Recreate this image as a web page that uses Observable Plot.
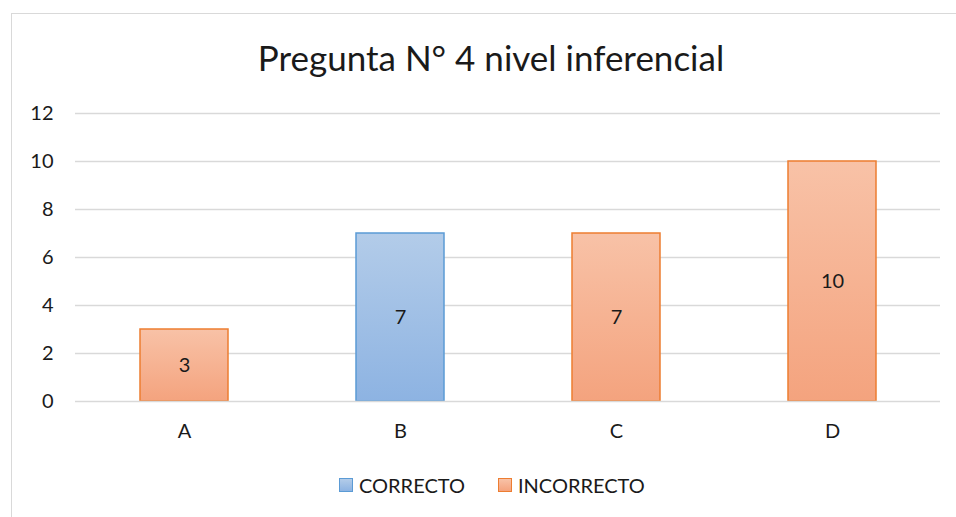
<!DOCTYPE html>
<html>
<head>
<meta charset="utf-8">
<script src="https://cdn.jsdelivr.net/npm/d3@7"></script>
<script src="https://cdn.jsdelivr.net/npm/@observablehq/plot@0.6"></script>
<style>
  html, body { margin: 0; padding: 0; background: #fff; overflow: hidden; }
  body { width: 956px; height: 517px; position: relative; font-family: Lato, "Open Sans", sans-serif; }
  #frame { position: absolute; left: 11px; top: 13px; width: 980px; height: 540px; border: 1.5px solid #d9d9d9; box-sizing: border-box; }
  #chart { position: absolute; left: 0; top: 0; }
  #title { position: absolute; left: 0; top: 40px; width: 982px; text-align: center; font-size: 35px; line-height: 1; color: #1a1a1a; white-space: nowrap; }
  #legend { position: absolute; top: 475px; left: 339px; display: flex; align-items: center; font-size: 20px; line-height: 1; color: #1a1a1a; }
  .item { display: flex; align-items: center; }
  .sw { width: 12px; height: 12px; box-sizing: content-box; margin-right: 6px; }
</style>
</head>
<body>
<div id="frame"></div>
<div id="chart"></div>
<div id="title">Pregunta N° 4 nivel inferencial</div>
<div id="legend"></div>
<script>
// ---- data ----
const categories = ["A", "B", "C", "D"];
const values = [3, 7, 7, 10];
const results = ["INCORRECTO", "CORRECTO", "INCORRECTO", "INCORRECTO"];
const seriesNames = ["CORRECTO", "INCORRECTO"];
const yTicks = [0, 2, 4, 6, 8, 10, 12];

// ---- styles ----
const fillFor = {CORRECTO: "url(#gradBlue)", INCORRECTO: "url(#gradOrange)"};
const strokeFor = {CORRECTO: "#5b9bd5", INCORRECTO: "#ed7d31"};

const data = categories.map((c, i) => ({cat: c, value: values[i], result: results[i]}));

const plot = Plot.plot({
  width: 956,
  height: 517,
  marginLeft: 75,
  marginRight: 16,
  marginTop: 113,
  marginBottom: 116,
  style: {fontFamily: "Lato, 'Open Sans', sans-serif", fontSize: "20px", color: "#1a1a1a", background: "transparent"},
  x: {domain: categories, paddingInner: 0.593, paddingOuter: 0.2965, label: null, tickSize: 0, tickPadding: 22},
  y: {domain: [0, 12], ticks: yTicks, label: null, tickSize: 0, tickPadding: 22},
  color: {type: "identity"},
  marks: [
    Plot.ruleY(yTicks.filter(t => t > 0), {stroke: "#d9d9d9", strokeWidth: 1.5}),
    Plot.barY(data, {
      x: "cat", y: "value",
      fill: d => fillFor[d.result],
      stroke: d => strokeFor[d.result],
      strokeWidth: 1.5
    }),
    Plot.ruleY([0], {stroke: "#d9d9d9", strokeWidth: 1.5}),
    Plot.text(data, {
      x: "cat", y: d => d.value / 2, text: d => String(d.value),
      fill: "#1a1a1a", fontSize: 20
    })
  ]
});

const svg = d3.select(plot);
const defs = svg.insert("defs", ":first-child");
function grad(id, top, bottom) {
  const g = defs.append("linearGradient").attr("id", id).attr("x1", 0).attr("y1", 0).attr("x2", 0).attr("y2", 1);
  g.append("stop").attr("offset", "0%").attr("stop-color", top);
  g.append("stop").attr("offset", "100%").attr("stop-color", bottom);
}
grad("gradBlue", "#b3cce9", "#8db3e2");
grad("gradOrange", "#f8c2a7", "#f4a37e");

document.getElementById("chart").appendChild(plot);

// ---- legend ----
const legend = d3.select("#legend");
const swBg = {CORRECTO: "linear-gradient(#b3cce9,#8db3e2)", INCORRECTO: "linear-gradient(#f8c2a7,#f4a37e)"};
seriesNames.forEach((name, i) => {
  const item = legend.append("div").attr("class", "item").style("margin-right", i === 0 ? "33px" : "0");
  item.append("div").attr("class", "sw")
    .style("background", swBg[name])
    .style("border", `1.5px solid ${strokeFor[name]}`);
  item.append("span").text(name);
});
</script>
</body>
</html>
